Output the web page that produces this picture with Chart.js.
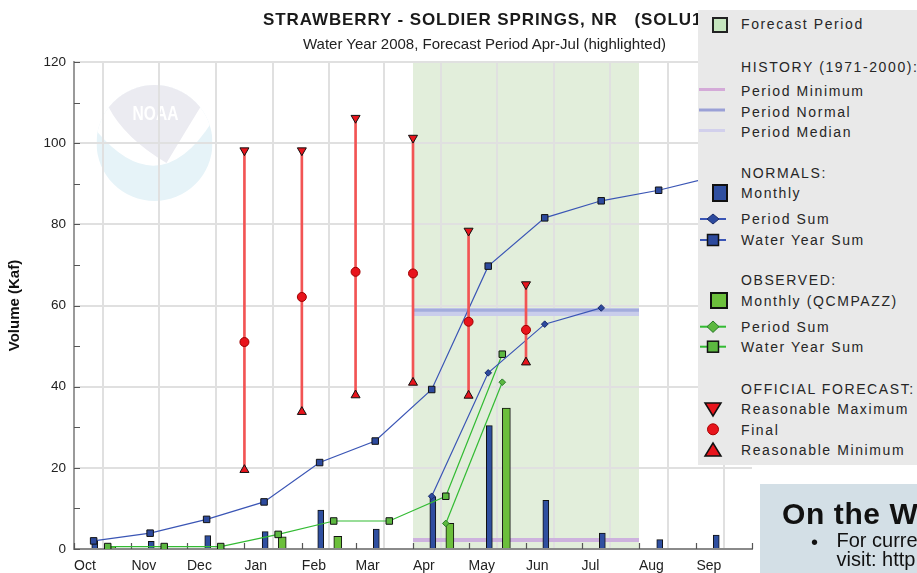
<!DOCTYPE html>
<html><head><meta charset="utf-8">
<script src="https://cdn.jsdelivr.net/npm/chart.js@4.4.1/dist/chart.umd.min.js"></script>
<style>
html,body{margin:0;padding:0;background:#fff;}
#wrap{position:relative;width:917px;height:573px;overflow:hidden;font-family:"Liberation Sans",Arial,Helvetica,sans-serif;color:#222;}
#chart{position:absolute;left:0;top:0;}
#title{position:absolute;left:263px;top:10.5px;font-weight:bold;font-size:17px;line-height:17px;letter-spacing:0.9px;white-space:nowrap;color:#1a1a1a;}
#subtitle{position:absolute;left:303px;top:36.3px;font-size:15px;line-height:15px;white-space:nowrap;color:#222;}
#legend{position:absolute;left:698px;top:10px;width:219px;height:455px;background:#e9e9e9;}
#legend .t{position:absolute;left:43px;font-size:14px;line-height:18px;letter-spacing:1.6px;white-space:nowrap;color:#262626;}
#legend svg{position:absolute;left:0;top:0;}
#web{position:absolute;left:760px;top:484px;width:157px;height:89px;background:#d3dfe6;overflow:hidden;}
#web .h{position:absolute;left:22px;top:14.5px;font-size:30px;line-height:30px;font-weight:bold;letter-spacing:0.6px;white-space:nowrap;color:#111;}
#web .b{position:absolute;left:51px;top:47.4px;font-size:20px;line-height:22px;color:#111;}
#web .l{position:absolute;left:76.5px;top:47.4px;font-size:20px;line-height:19px;white-space:nowrap;color:#111;}
</style></head>
<body>
<div id="wrap">
  <canvas id="chart" width="917" height="573"></canvas>
  <div id="title">STRAWBERRY - SOLDIER SPRINGS, NR&nbsp;&nbsp;&nbsp;(SOLU1)</div>
  <div id="subtitle">Water Year 2008, Forecast Period Apr-Jul (highlighted)</div>
  <div id="legend">
    <svg width="219" height="455">
      <rect x="15" y="8" width="14" height="14" fill="#c6e6bf" stroke="#222" stroke-width="2"/>
      <line x1="1" y1="79.5" x2="27" y2="79.5" stroke="#d4aad8" stroke-width="3"/>
      <line x1="1" y1="100" x2="27" y2="100" stroke="#9aa0d6" stroke-width="3"/>
      <line x1="1" y1="120.5" x2="27" y2="120.5" stroke="#d2d0ec" stroke-width="3"/>
      <rect x="15" y="175" width="14" height="16" fill="#2f4fa0" stroke="#111" stroke-width="2"/>
      <line x1="2" y1="209" x2="28" y2="209" stroke="#3a55b5" stroke-width="2"/>
      <path d="M15 204 L21 209 L15 214 L9 209 Z" fill="#2d4a9e" stroke="#1a2a6a" stroke-width="1"/>
      <line x1="2" y1="230" x2="28" y2="230" stroke="#3a55b5" stroke-width="2"/>
      <rect x="9.5" y="224.5" width="11" height="11" fill="#2d4a9e" stroke="#111" stroke-width="1.5"/>
      <rect x="13" y="283" width="16" height="15" fill="#6cbf3c" stroke="#111" stroke-width="2"/>
      <line x1="2" y1="316.7" x2="28" y2="316.7" stroke="#33bb33" stroke-width="2"/>
      <path d="M15 311 L21 316.7 L15 322.4 L9 316.7 Z" fill="#5cb840" stroke="#2a7a2a" stroke-width="1"/>
      <line x1="2" y1="336.7" x2="28" y2="336.7" stroke="#33bb33" stroke-width="2"/>
      <rect x="9.5" y="331.2" width="11" height="11" fill="#5cb840" stroke="#111" stroke-width="1.5"/>
      <path d="M7 393 L23 393 L15 406 Z" fill="#e8141c" stroke="#111" stroke-width="1.5"/>
      <circle cx="15" cy="419.3" r="5.5" fill="#e8141c" stroke="#a00" stroke-width="1"/>
      <path d="M7 446 L23 446 L15 433 Z" fill="#e8141c" stroke="#111" stroke-width="1.5"/>
    </svg>
    <div class="t" style="top:5.4px">Forecast Period</div>
    <div class="t" style="top:47.9px">HISTORY (1971-2000):</div>
    <div class="t" style="top:72.4px">Period Minimum</div>
    <div class="t" style="top:92.9px">Period Normal</div>
    <div class="t" style="top:113.4px">Period Median</div>
    <div class="t" style="top:153.9px">NORMALS:</div>
    <div class="t" style="top:174.4px">Monthly</div>
    <div class="t" style="top:200.4px">Period Sum</div>
    <div class="t" style="top:221.4px">Water Year Sum</div>
    <div class="t" style="top:261.4px">OBSERVED:</div>
    <div class="t" style="top:282.1px">Monthly (QCMPAZZ)</div>
    <div class="t" style="top:308.1px">Period Sum</div>
    <div class="t" style="top:328.1px">Water Year Sum</div>
    <div class="t" style="top:369.7px">OFFICIAL FORECAST:</div>
    <div class="t" style="top:390.4px">Reasonable Maximum</div>
    <div class="t" style="top:410.7px">Final</div>
    <div class="t" style="top:430.7px">Reasonable Minimum</div>
  </div>
  <div id="web">
    <div class="h">On the Web</div>
    <div class="b">&bull;</div>
    <div class="l">For current forecasts<br>visit: http://www.cnrfc.noaa.gov</div>
  </div>
</div>
<script>
// ---------- DATA ----------
const months = ['Oct','Nov','Dec','Jan','Feb','Mar','Apr','May','Jun','Jul','Aug','Sep'];
const daysInMonth = [31,30,31,31,29,31,30,31,30,31,31,30];
const yTickStep = 20;
const yMinorStep = 10;

const normalMonthly = [2.0,1.9,3.3,4.3,9.6,4.9,12.9,30.4,12.0,3.9,2.3,3.4];
const normalWYSum = [2.0,3.9,7.3,11.6,21.3,26.6,39.3,69.7,81.6,85.8,88.4,91.8];
const normalPeriodMonths = ['Apr','May','Jun','Jul'];
const normalPeriodSum = [13.0,43.4,55.4,59.4];

const obsMonths = ['Oct','Nov','Dec','Jan','Feb','Mar','Apr','May'];
const obsMonthly = [0.6,null,null,3.0,3.1,null,6.3,34.7];
const obsWYSum = [0.6,0.6,0.6,3.6,6.9,6.9,13.0,48.0];
const obsPeriodMonths = ['Apr','May'];
const obsPeriodSum = [6.3,41.1];

const forecastMonths = ['Jan','Feb','Mar','Apr','May','Jun'];
const forecastMax = [98.2,98.2,106.2,101.3,78.4,65.2];
const forecastFinal = [51.0,62.1,68.3,67.9,56.0,54.0];
const forecastMin = [19.5,33.8,37.9,41.0,37.8,46.0];

const forecastPeriod = ['Apr','Jul'];
const periodMinimum = 2.2;
const periodNormal = 58.8;
const periodMedian = 58.4;

// ---------- helpers ----------
const monthStart = [];
daysInMonth.reduce((acc,d,i)=>{monthStart[i]=acc;return acc+d;},0);
const totalDays = daysInMonth.reduce((a,b)=>a+b,0);
const boundaries = monthStart.concat([totalDays]);
const mi = m => months.indexOf(m);
const mid = m => monthStart[mi(m)] + daysInMonth[mi(m)]/2;
// within-month placement (days) of each series, as drawn by the original
const OFF_NSUM = -4.9, OFF_NBAR = -4.3, OFF_OSUM = 2.7, OFF_OBAR = 4.9;

const periodStart = monthStart[mi(forecastPeriod[0])];
const periodEnd = monthStart[mi(forecastPeriod[1])] + daysInMonth[mi(forecastPeriod[1])];

const pts = (labels, vals, off) => labels.map((m,i)=> vals[i]==null?null:({x: mid(m)+off, y: vals[i]})).filter(p=>p);
const fpts = (vals) => forecastMonths.map((m,i)=>({x: monthStart[mi(m)], y: vals[i]}));

const FONT = '"Liberation Sans", Arial, Helvetica, sans-serif';
const BLUE = '#2d4a9e', BLUE_LINE = '#3a55b5', GREEN = '#5cb840', GREEN_BAR = '#6cbf3c', GREEN_LINE = '#33bb33', RED = '#e8141c';

// ---------- plugins ----------
const background = {
  id: 'background',
  beforeDraw(chart) {
    const {ctx, chartArea: a, scales: {x}} = chart;
    ctx.save();
    ctx.fillStyle = '#fff';
    ctx.fillRect(a.left, a.top, a.right-a.left, a.bottom-a.top);
    // NOAA watermark
    const cx = a.left + 80.5, cy = a.top + 81, r = 58;
    ctx.beginPath(); ctx.arc(cx, cy, r, 0, Math.PI*2); ctx.clip();
    ctx.fillStyle = '#e6f3f8'; ctx.fillRect(cx-r, cy-r, 2*r, 2*r);
    ctx.fillStyle = '#ffffff';
    ctx.beginPath(); ctx.moveTo(cx-r, cy-r); ctx.lineTo(cx+r, cy-r); ctx.lineTo(cx+r, cy-22);
    ctx.quadraticCurveTo(cx+5, cy+62, cx-r, cy-12); ctx.closePath(); ctx.fill();
    ctx.fillStyle = '#ebebf1';
    ctx.beginPath();
    ctx.moveTo(cx-46, cy-36);
    ctx.quadraticCurveTo(cx-30, cy-62, cx, cy-62);
    ctx.quadraticCurveTo(cx+30, cy-62, cx+46, cy-36);
    ctx.quadraticCurveTo(cx+30, cy-10, cx+12, cy+20);
    ctx.quadraticCurveTo(cx-30, cy-5, cx-46, cy-36);
    ctx.closePath(); ctx.fill();
    ctx.restore();
    ctx.save();
    ctx.fillStyle = '#ffffff';
    ctx.font = 'bold 21px ' + FONT;
    ctx.textAlign = 'center'; ctx.textBaseline = 'middle';
    ctx.translate(cx+1, cy-29); ctx.scale(0.74, 1);
    ctx.fillText('NOAA', 0, 0);
    ctx.restore();
    // forecast period shading
    ctx.save();
    ctx.fillStyle = '#e2eedb';
    const x0 = x.getPixelForValue(periodStart), x1 = x.getPixelForValue(periodEnd);
    ctx.fillRect(x0, a.top, x1-x0, a.bottom-a.top);
    ctx.restore();
  }
};
const innerTicks = {
  id: 'innerTicks',
  beforeDatasetsDraw(chart) {
    const {ctx, chartArea: a, scales: {x, y}} = chart;
    ctx.save();
    ctx.strokeStyle = '#555'; ctx.lineWidth = 1.2;
    ctx.beginPath();
    for (let v = y.min; v <= y.max; v += yMinorStep) {
      const py = Math.round(y.getPixelForValue(v)) + 0.5;
      ctx.moveTo(a.left, py); ctx.lineTo(a.left + 6, py);
    }
    boundaries.forEach(b => {
      const px = Math.round(x.getPixelForValue(b)) + 0.5;
      ctx.moveTo(px, a.bottom); ctx.lineTo(px, a.bottom - 6);
    });
    ctx.stroke();
    ctx.restore();
  }
};

// ---------- chart ----------
const lineBase = {type:'line', pointRadius:0, borderCapStyle:'butt', fill:false, tension:0};
new Chart(document.getElementById('chart'), {
  type: 'line',
  data: {
    datasets: [
      {type:'scatter', label:'Reasonable Maximum', data: fpts(forecastMax), pointStyle:'triangle', rotation:180, pointRadius:5.2,
        backgroundColor: RED, borderColor:'#111', borderWidth:1, order:1},
      {type:'scatter', label:'Final', data: fpts(forecastFinal), pointStyle:'circle', pointRadius:4.5,
        backgroundColor: RED, borderColor:'#a00000', borderWidth:1, order:1},
      {type:'scatter', label:'Reasonable Minimum', data: fpts(forecastMin), pointStyle:'triangle', pointRadius:5.2,
        backgroundColor: RED, borderColor:'#111', borderWidth:1, order:1},
      {type:'bar', label:'Forecast range', data: forecastMonths.map((m,i)=>({x: monthStart[mi(m)], y:[forecastMin[i], forecastMax[i]]})),
        backgroundColor:'#f25454', borderWidth:0, barThickness:2, grouped:false, order:2},
      {...lineBase, label:'Normal Period Sum', data: pts(normalPeriodMonths, normalPeriodSum, OFF_NSUM), borderColor: BLUE_LINE, borderWidth:1.2,
        pointStyle:'rectRot', pointRadius:3.3, pointBackgroundColor: BLUE, pointBorderColor:'#1a2a6a', pointBorderWidth:1, order:3},
      {...lineBase, label:'Normal Water Year Sum', data: pts(months, normalWYSum, OFF_NSUM), borderColor: BLUE_LINE, borderWidth:1.2,
        pointStyle:'rect', pointRadius:4.6, pointBackgroundColor: BLUE, pointBorderColor:'#111', pointBorderWidth:1, order:3},
      {...lineBase, label:'Observed Period Sum', data: pts(obsPeriodMonths, obsPeriodSum, OFF_OSUM), borderColor: GREEN_LINE, borderWidth:1.2,
        pointStyle:'rectRot', pointRadius:3.3, pointBackgroundColor: GREEN, pointBorderColor:'#2a7a2a', pointBorderWidth:1, order:3},
      {...lineBase, label:'Observed Water Year Sum', data: pts(obsMonths, obsWYSum, OFF_OSUM), borderColor: GREEN_LINE, borderWidth:1.2,
        pointStyle:'rect', pointRadius:4.6, pointBackgroundColor: GREEN, pointBorderColor:'#111', pointBorderWidth:1, order:3},
      {type:'bar', label:'Normal Monthly', data: pts(months, normalMonthly, OFF_NBAR), backgroundColor: '#2f4fa0',
        borderColor:'#111', borderWidth:1, barThickness:6, grouped:false, order:5},
      {type:'bar', label:'Observed Monthly', data: pts(obsMonths, obsMonthly, OFF_OBAR), backgroundColor: GREEN_BAR,
        borderColor:'#111', borderWidth:1, barThickness:8, grouped:false, order:5},
      {...lineBase, label:'Period Normal', data:[{x:periodStart,y:periodNormal},{x:periodEnd,y:periodNormal}], borderColor:'#a3acdc', borderWidth:3, order:6},
      {...lineBase, label:'Period Median', data:[{x:periodStart,y:periodMedian},{x:periodEnd,y:periodMedian}], borderColor:'#c9cdeb', borderWidth:8, order:7},
      {...lineBase, label:'Period Minimum', data:[{x:periodStart,y:periodMinimum},{x:periodEnd,y:periodMinimum}], borderColor:'#cdb2de', borderWidth:4, order:7}
    ]
  },
  options: {
    responsive:false, animation:false,
    layout:{padding:{left:0, top:62, right:165, bottom:0}},
    plugins:{legend:{display:false}, tooltip:{enabled:false}, title:{display:false}},
    scales:{
      x:{type:'linear', min:0, max:totalDays, offset:false,
        afterBuildTicks: s => { s.ticks = boundaries.map(v=>({value:v})); },
        ticks:{callback:(v,i)=> months[i] ?? '', align:'start', autoSkip:false, maxRotation:0, minRotation:0, padding:9,
          font:{size:14, family:FONT}, color:'#222'},
        grid:{color:'#e0e0e0', lineWidth:2, drawTicks:false},
        border:{color:'#8a8a8a', width:2},
        afterFit: s => { s.height = 24; }
      },
      y:{min:0, max:120,
        ticks:{stepSize:yTickStep, padding:8, font:{size:13.5, family:FONT}, color:'#222'},
        grid:{color:'#e0e0e0', lineWidth:2, drawTicks:false},
        border:{color:'#9a9a9a', width:2},
        title:{display:true, text:'Volume (Kaf)', font:{size:15, weight:'bold', family:FONT}, color:'#111', padding:{top:6, bottom:0}},
        afterFit: s => { s.width = 74; }
      }
    }
  },
  plugins:[background, innerTicks]
});
</script>
</body></html>
